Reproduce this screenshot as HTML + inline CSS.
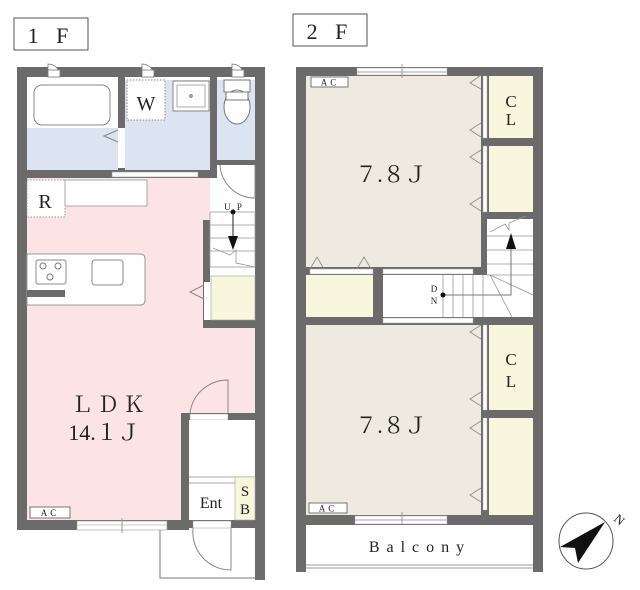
<!DOCTYPE html>
<html><head><meta charset="utf-8"><style>body{margin:0;background:#fff}svg{display:block}text{font-family:"Liberation Serif","Noto Serif CJK SC",serif;fill:#222}</style></head><body>
<svg width="640" height="590" viewBox="0 0 640 590" xmlns="http://www.w3.org/2000/svg">
<rect x="14" y="18" width="74" height="32" fill="#fff" stroke="#555"/>
<text x="51" y="43" font-size="22" text-anchor="middle" letter-spacing="6">1 F</text>
<rect x="293" y="14" width="74" height="32" fill="#fff" stroke="#555"/>
<text x="330" y="39" font-size="22" text-anchor="middle" letter-spacing="6">2 F</text>

<rect x="27" y="178" width="228" height="342" fill="#fbe3e6"/>
<rect x="210" y="178" width="45" height="150" fill="#fff"/>
<rect x="27" y="80" width="91" height="90" fill="#dde4f1"/>
<rect x="27" y="80" width="91" height="48" fill="#fff"/>
<rect x="34" y="85" width="76" height="40" rx="8" fill="#fff" stroke="#888"/>
<rect x="125" y="80" width="85" height="92" fill="#dde4f1"/>
<rect x="127" y="80" width="38" height="40" fill="#fff" stroke="#888" stroke-dasharray="1.5,1.5"/>
<text x="146" y="110" font-size="20" text-anchor="middle">W</text>
<rect x="173" y="81" width="36" height="30" fill="#fff" stroke="#888"/>
<rect x="177" y="85" width="28" height="22" fill="none" stroke="#aaa"/>
<circle cx="191" cy="96" r="1.2" fill="none" stroke="#666"/>
<rect x="217" y="80" width="38" height="82" fill="#dde4f1"/>
<rect x="224" y="80" width="26" height="12" fill="#fff" stroke="#777"/>
<ellipse cx="237" cy="107" rx="13" ry="17" fill="#fff" stroke="#777"/>
<rect x="226" y="92" width="22" height="8" fill="#fff" stroke="#777"/>
<g fill="#6b6b6b">
<rect x="17" y="67" width="248" height="10"/>
<rect x="17" y="67" width="10" height="463"/>
<rect x="255" y="67" width="10" height="513"/>
<rect x="118" y="77" width="7" height="101"/>
<rect x="210" y="77" width="7" height="101"/>
<rect x="217" y="160" width="38" height="5"/>
<rect x="27" y="170" width="190" height="8"/>
<rect x="203" y="220" width="7" height="108"/>
<rect x="203" y="320" width="52" height="8"/>
<rect x="27" y="290" width="38" height="7"/>
<rect x="181" y="413" width="8" height="115"/>
<rect x="181" y="413" width="74" height="7"/>
<rect x="17" y="520" width="172" height="10"/>
<rect x="189" y="520" width="66" height="8"/>
</g>
<rect x="112" y="172" width="86" height="5" fill="#fff" stroke="#999" stroke-width=".6"/>
<rect x="118" y="128" width="7" height="40" fill="#fff"/>
<polyline points="118,130 104,136 118,142" fill="none" stroke="#888"/>
<rect x="190" y="414" width="38" height="6" fill="#fff" stroke="#999" stroke-width=".5"/>
<path d="M228,413 V380 A38,38 0 0 0 190,413" fill="none" stroke="#888"/>
<rect x="193" y="521" width="38" height="7" fill="#fff" stroke="#999" stroke-width=".5"/>
<path d="M193,528 A38,38 0 0 0 231,570 V528" fill="none" stroke="#888"/>
<rect x="77" y="521" width="90" height="9" fill="#fff" stroke="#999" stroke-width=".6"/>
<line x1="77" y1="525" x2="167" y2="525" stroke="#999" stroke-width=".6"/>
<line x1="122" y1="518" x2="122" y2="533" stroke="#999"/>
<g fill="#fff" stroke="#777" stroke-width=".8">
<path d="M48,77 V64 A12,12 0 0 1 60,76"/><rect x="48" y="70" width="12" height="7"/>
<path d="M142,77 V64 A12,12 0 0 1 154,76"/><rect x="142" y="70" width="12" height="7"/>
<path d="M232,77 V64 A12,12 0 0 1 244,76"/><rect x="232" y="70" width="12" height="7"/>
</g>
<path d="M220,165 A35,35 0 0 0 255,198 V165" fill="none" stroke="#888"/>
<rect x="27" y="180" width="38" height="37" fill="#fff" stroke="#999" stroke-dasharray="1.5,1.5"/>
<text x="45" y="208" font-size="20" text-anchor="middle">R</text>
<rect x="65" y="180" width="82" height="26" fill="#fff" stroke="#aaa"/>
<path d="M27,254 H140 Q145,254 145,259 V300 Q145,305 140,305 H27 Z" fill="#fff" stroke="#999"/>
<rect x="27" y="290" width="38" height="7" fill="#6b6b6b"/>
<rect x="36" y="260" width="30" height="24" rx="2" fill="#fff" stroke="#888"/>
<circle cx="43" cy="266" r="3" fill="none" stroke="#777"/><circle cx="58" cy="266" r="3" fill="none" stroke="#777"/><circle cx="50" cy="277" r="3" fill="none" stroke="#777"/>
<rect x="92" y="260" width="31" height="25" rx="3" fill="#fff" stroke="#888"/>
<g stroke="#999" stroke-width=".8" fill="none">
<rect x="210" y="212" width="45" height="55"/>
<line x1="210" y1="225" x2="255" y2="225"/><line x1="210" y1="238" x2="255" y2="238"/><line x1="210" y1="251" x2="255" y2="251"/>
<polyline points="213,248 230,255 236,250 236,263 255,267"/>
</g>
<text x="234" y="210" font-size="9" text-anchor="middle" letter-spacing="2">U P</text>
<circle cx="233" cy="212" r="2.5" fill="#111"/>
<line x1="233" y1="212" x2="233" y2="240" stroke="#222"/>
<polygon points="228,236 238,236 233,250" fill="#111"/>
<rect x="211" y="276" width="44" height="44" fill="#f8f6dc" stroke="#999" stroke-width=".6"/>
<rect x="204" y="282" width="6" height="38" fill="#fff"/>
<polyline points="204,285 190,292 204,299" fill="none" stroke="#888"/>
<rect x="189" y="420" width="66" height="100" fill="#fff"/>
<line x1="189" y1="477" x2="255" y2="477" stroke="#aaa"/><line x1="189" y1="483" x2="235" y2="483" stroke="#aaa"/>
<rect x="235" y="477" width="20" height="43" fill="#f8f6dc" stroke="#aaa" stroke-width=".6"/>
<text x="211" y="508" font-size="16" text-anchor="middle">Ent</text>
<text x="245" y="496" font-size="15" text-anchor="middle">S</text>
<text x="245" y="514" font-size="15" text-anchor="middle">B</text>
<polyline points="160,530 160,578 255,578" fill="none" stroke="#777"/>
<rect x="30" y="507" width="40" height="11" fill="#fff" stroke="#777"/>
<text x="50" y="516" font-size="9" text-anchor="middle" letter-spacing="3">AC</text>
<text x="110" y="412" font-size="22" text-anchor="middle" letter-spacing="4">ＬＤＫ</text>
<text x="104" y="440" font-size="22" text-anchor="middle">14.１Ｊ</text>

<rect x="306" y="76" width="175" height="191" fill="#eeeae0"/>
<rect x="306" y="325" width="175" height="190" fill="#eeeae0"/>
<rect x="489" y="76" width="44" height="62" fill="#f8f6dc"/>
<rect x="489" y="146" width="44" height="66" fill="#f8f6dc"/>
<rect x="489" y="325" width="44" height="85" fill="#f8f6dc"/>
<rect x="489" y="418" width="44" height="97" fill="#f8f6dc"/>
<rect x="306" y="275" width="67" height="42" fill="#f8f6dc"/>
<g fill="#6b6b6b">
<rect x="296" y="67" width="247" height="9"/>
<rect x="296" y="67" width="10" height="505"/>
<rect x="533" y="67" width="10" height="505"/>
<rect x="481" y="76" width="8" height="191"/>
<rect x="481" y="138" width="52" height="8"/>
<rect x="481" y="212" width="52" height="7"/>
<rect x="306" y="267" width="181" height="8"/>
<rect x="373" y="267" width="10" height="58"/>
<rect x="306" y="317" width="227" height="8"/>
<rect x="481" y="317" width="8" height="205"/>
<rect x="481" y="410" width="52" height="8"/>
<rect x="296" y="515" width="247" height="10"/>
</g>
<g fill="#fff" stroke="#aaa" stroke-width=".5">
<rect x="483" y="76" width="4" height="62"/><rect x="483" y="146" width="4" height="66"/>
<rect x="483" y="325" width="4" height="85"/><rect x="483" y="418" width="4" height="92"/>
<rect x="310" y="269" width="63" height="5"/>
<rect x="383" y="269" width="90" height="5"/>
<rect x="383" y="318" width="90" height="5"/>
<rect x="357" y="68" width="90" height="7"/>
<rect x="355" y="516" width="92" height="8"/>
</g>
<g fill="none" stroke="#888" stroke-width=".8">
<polyline points="481,75 470,83 481,89"/><polyline points="481,123 470,130 481,137"/>
<polyline points="481,150 470,157 481,164"/><polyline points="481,197 470,204 481,211"/>
<polyline points="481,325 470,332 481,339"/><polyline points="481,392 470,399 481,406"/>
<polyline points="481,421 470,428 481,435"/><polyline points="481,488 470,495 481,502"/>
<polyline points="310,269 317,257 324,269"/><polyline points="357,269 364,257 371,269"/>
<line x1="402" y1="64" x2="402" y2="78"/><line x1="357" y1="72" x2="447" y2="72"/>
<line x1="402" y1="512" x2="402" y2="528"/><line x1="355" y1="520" x2="447" y2="520"/>
</g>
<rect x="383" y="275" width="150" height="42" fill="#fff"/>
<rect x="487" y="219" width="46" height="98" fill="#fff"/>
<g stroke="#999" stroke-width=".8" fill="none">
<line x1="487" y1="236" x2="533" y2="236"/><line x1="487" y1="250" x2="533" y2="250"/><line x1="487" y1="264" x2="533" y2="264"/><line x1="487" y1="275" x2="533" y2="275"/>
<line x1="443" y1="275" x2="443" y2="317"/><line x1="453" y1="275" x2="453" y2="317"/><line x1="463" y1="275" x2="463" y2="317"/><line x1="473" y1="275" x2="473" y2="317"/><line x1="483" y1="275" x2="483" y2="317"/>
<line x1="490" y1="275" x2="533" y2="295"/><line x1="490" y1="275" x2="512" y2="317"/>
<polyline points="490,232 505,224 509,230 509,223 526,216"/>
</g>
<polyline points="443,295 511,295 511,248" fill="none" stroke="#777"/>
<polygon points="506,249 516,249 511,233" fill="#111"/>
<circle cx="443" cy="295" r="2.5" fill="#111"/>
<text x="434" y="292" font-size="9" text-anchor="middle">D</text>
<text x="434" y="304" font-size="9" text-anchor="middle">N</text>
<rect x="311" y="77" width="37" height="10" fill="#fff" stroke="#777"/>
<text x="330" y="85.5" font-size="9" text-anchor="middle" letter-spacing="3">AC</text>
<rect x="309" y="503" width="38" height="10" fill="#fff" stroke="#777"/>
<text x="328" y="511.5" font-size="9" text-anchor="middle" letter-spacing="3">AC</text>
<text x="391" y="182" font-size="22" text-anchor="middle">７.８Ｊ</text>
<text x="391" y="433" font-size="22" text-anchor="middle">７.８Ｊ</text>
<text x="511" y="107" font-size="17" text-anchor="middle">C</text>
<text x="511" y="125" font-size="17" text-anchor="middle">L</text>
<text x="511" y="365" font-size="17" text-anchor="middle">C</text>
<text x="511" y="387" font-size="17" text-anchor="middle">L</text>
<rect x="306" y="525" width="227" height="43" fill="#fff"/>
<line x1="306" y1="565" x2="533" y2="565" stroke="#999"/><line x1="306" y1="568" x2="533" y2="568" stroke="#999"/>
<text x="420" y="552" font-size="16" text-anchor="middle" letter-spacing="7">Balcony</text>
<ellipse cx="586" cy="541" rx="27" ry="28" fill="#fff" stroke="#555"/>
<polygon points="605,522 560,547 575,548 578,563" fill="#111"/>
<text x="613" y="520" font-size="13" transform="rotate(40 613 520)">N</text>
</svg>
</body></html>
